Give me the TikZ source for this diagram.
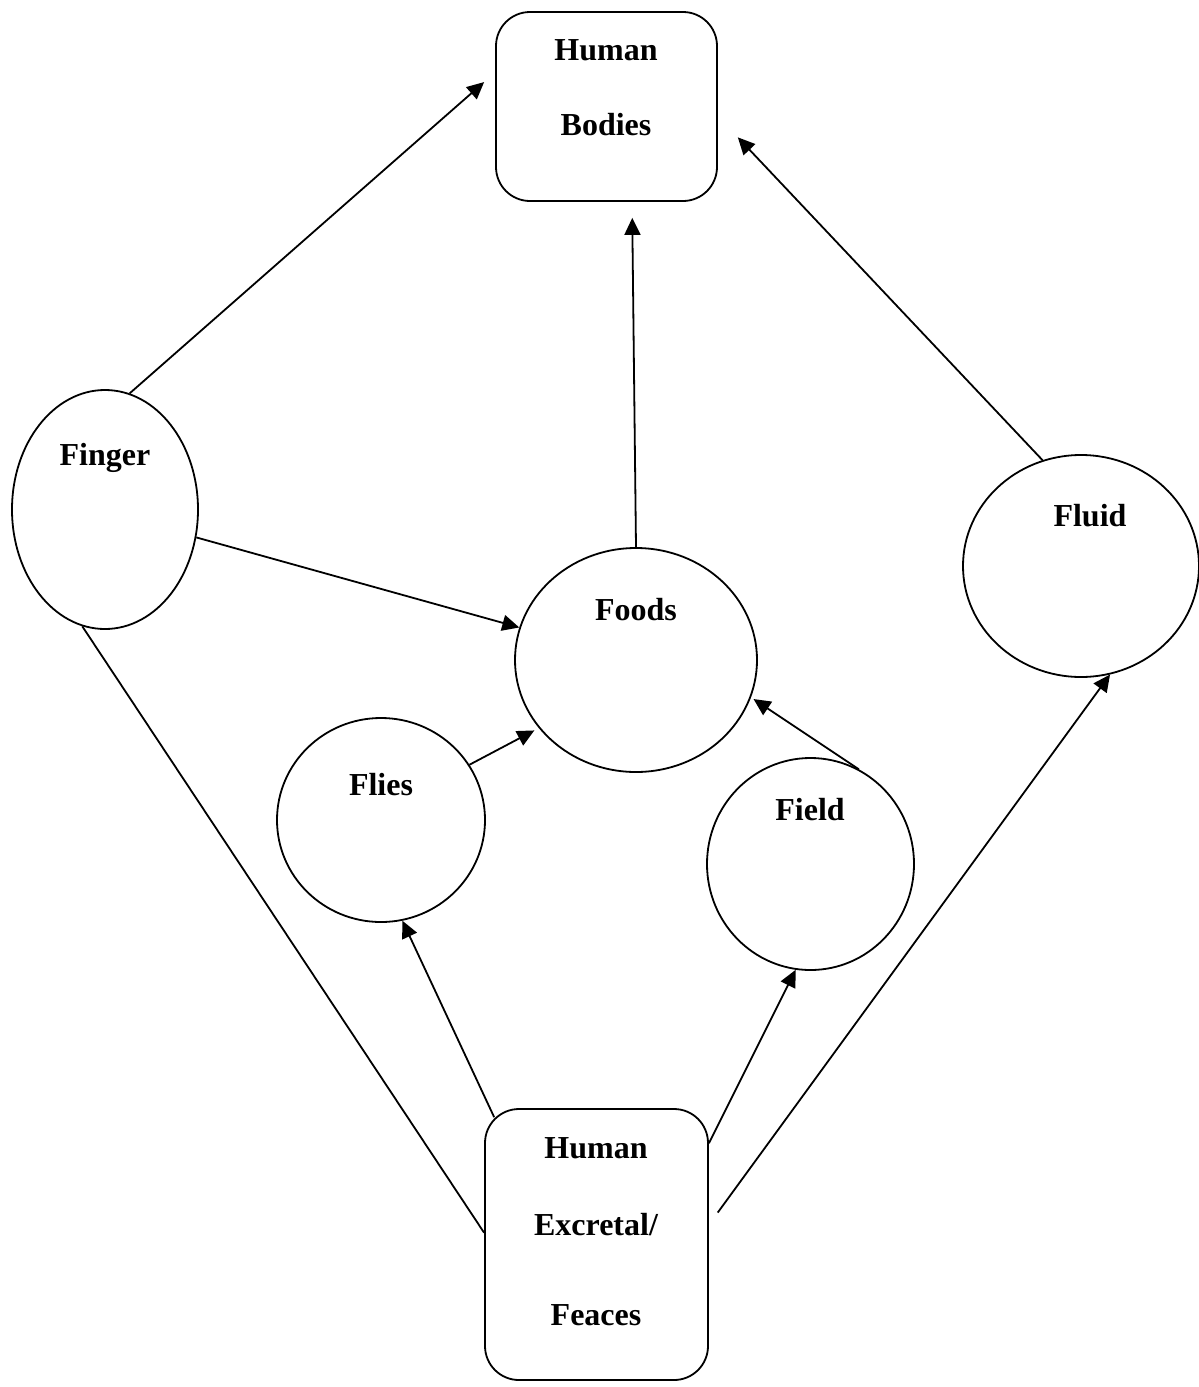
\documentclass[tikz,border=0pt]{standalone}
\usepackage{fontspec}
\setmainfont{Liberation Serif}
\usetikzlibrary{arrows.meta, shapes.geometric}

\begin{document}
\begin{tikzpicture}[x = 0.5pt, y = -0.5pt, line width = 0.9pt,
		box/.style = {draw, rectangle, rounded corners = 17pt, inner sep = 0pt},
		oval/.style = {draw, ellipse, inner sep = 0pt},
		word/.style = {anchor = base, inner sep = 0pt,
			font = \fontsize{16}{19}\selectfont\bfseries},
		arr/.style = {-{Triangle[length = 8.5pt, width = 8pt]}}]

	\useasboundingbox (0,0) rectangle (1199,1387);

	\node [box, minimum width = 110.5pt, minimum height = 94.5pt] (bodies) at (606.5,106.5) {};
	\node [word] (bodies_1) at (606,60.5) {Human};
	\node [word] (bodies_2) at (606,135.5) {Bodies};

	\node [oval, minimum width = 93pt, minimum height = 119.5pt] (finger) at (105,509.5) {};
	\node [word] (finger_1) at (105,465.5) {Finger};

	\node [oval, minimum width = 121pt, minimum height = 112pt] (foods) at (636,660) {};
	\node [word] (foods_1) at (636,620.5) {Foods};

	\node [oval, minimum width = 118pt, minimum height = 111pt] (fluid) at (1081,566) {};
	\node [word] (fluid_1) at (1090,526.5) {Fluid};

	\node [oval, minimum width = 104pt, minimum height = 102pt] (flies) at (381,820) {};
	\node [word] (flies_1) at (381,795.5) {Flies};

	\node [oval, minimum width = 103.5pt, minimum height = 106pt] (field) at (810.5,864) {};
	\node [word] (field_1) at (810,820.5) {Field};

	\node [box, minimum width = 111.5pt, minimum height = 135.5pt] (excreta) at (596.5,1244.5) {};
	\node [word] (excreta_1) at (596,1158) {Human};
	\node [word] (excreta_2) at (596,1235.5) {Excretal/};
	\node [word] (excreta_3) at (596,1325.5) {Feaces};

	\draw [arr, shorten >= 7.3pt] (finger.78) -- (bodies.163);
	\draw [arr, shorten >= 8pt] (foods.north) -- (bodies.285);
	\draw [arr, shorten >= 14.5pt] (fluid.110) -- (bodies.-5);
	\draw [arr] (finger.-17) -- (foods);
	\draw [arr, shorten >= 2.5pt] (flies.32) -- (foods.215);
	\draw [arr, shorten >= 1.5pt] (field.63) -- (foods.-18);
	\draw (finger.259) -- (excreta.174);
	\draw [arr, shorten <= -5pt] (excreta.128) -- (flies.-78);
	\draw [arr] (excreta.42) -- (field.262);
	\draw [arr, shorten <= 7.5pt] (excreta.10) -- (fluid.-75);
\end{tikzpicture}
\end{document}
